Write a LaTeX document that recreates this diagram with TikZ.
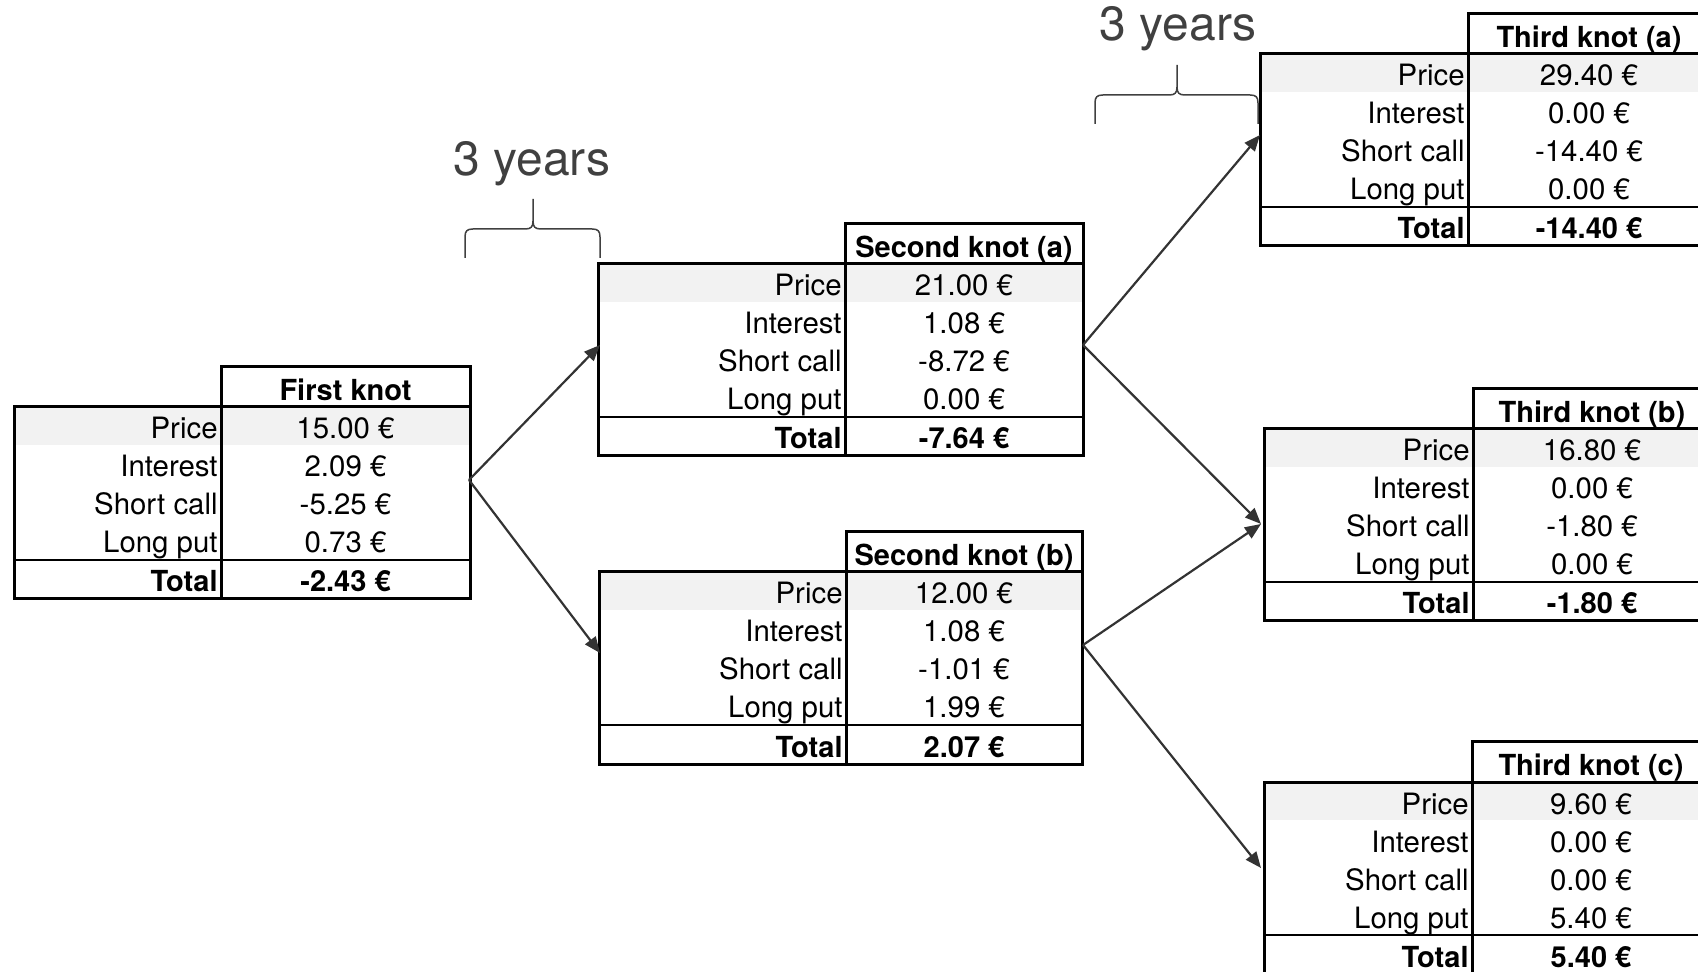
\documentclass[tikz,border=0pt]{standalone}
\usepackage{fontspec}
\setmainfont{TeX Gyre Heros}
\usetikzlibrary{arrows.meta}

\definecolor{pricegray}{HTML}{F2F2F2}
\definecolor{arrowgray}{HTML}{333333}
\definecolor{bracegray}{HTML}{404040}

\tikzset{
  frame/.style={line width=1.5pt, black},
  totalrule/.style={line width=1pt, black},
  lbl/.style={anchor=base east, inner sep=0pt, font=\fontsize{14.7}{17}\selectfont},
  val/.style={anchor=base, inner sep=0pt, font=\fontsize{14.7}{17}\selectfont},
  hdr/.style={anchor=base, inner sep=0pt, font=\fontsize{14.5}{17}\selectfont\bfseries},
  lblb/.style={lbl, font=\fontsize{14.5}{17}\selectfont\bfseries},
  valb/.style={val, font=\fontsize{14.5}{17}\selectfont\bfseries},
  link/.style={arrowgray, line width=1.1pt, -{Triangle[length=8pt,width=6.5pt]}},
  brace/.style={bracegray, line width=0.75pt},
  span/.style={anchor=base, inner sep=0pt, text=bracegray, font=\fontsize{24}{27}\selectfont},
}

% Frame of one knot table: #1 name, #2 left, #3 column rule, #4 right, #5 top of header
\newcommand\knotframe[5]{%
  \def\kL{#2}\def\kS{#3}\def\kR{#4}\def\kT{#5}%
  \fill[pricegray] (#2,#5+40) rectangle (#4,#5+78);
  \draw[totalrule] (#2,#5+193) -- (#4,#5+193);
  \draw[frame] (#2,#5+40) rectangle (#4,#5+232);
  \draw[frame] (#3,#5+232) -- (#3,#5) -- (#4,#5) -- (#4,#5+40);
}

% Texts of one knot table: #1 name, #2 header, #3 price, #4 interest,
% #5 short call, #6 long put, #7 total
\newcommand\knottext[7]{%
  \node[hdr] (#1-h) at ({(\kS+\kR)/2},{\kT+34}) {#2};
  \node[lbl] (#1-p) at ({\kS-3},{\kT+72}) {Price};
  \node[val] (#1-pv) at ({(\kS+\kR)/2},{\kT+72}) {#3};
  \node[lbl] (#1-i) at ({\kS-3},{\kT+110}) {Interest};
  \node[val] (#1-iv) at ({(\kS+\kR)/2},{\kT+110}) {#4};
  \node[lbl] (#1-s) at ({\kS-3},{\kT+148}) {Short call};
  \node[val] (#1-sv) at ({(\kS+\kR)/2},{\kT+148}) {#5};
  \node[lbl] (#1-l) at ({\kS-3},{\kT+186}) {Long put};
  \node[val] (#1-lv) at ({(\kS+\kR)/2},{\kT+186}) {#6};
  \node[lblb] (#1-t) at ({\kS-3},{\kT+225}) {Total};
  \node[valb] (#1-tv) at ({(\kS+\kR)/2},{\kT+225}) {#7};
}

\begin{document}
\begin{tikzpicture}[x=0.5pt, y=-0.5pt]
\useasboundingbox (0,0) rectangle (1698,972);
\clip (0,0) rectangle (1698,972);

% first period
\knotframe{k1}{14}{221}{470}{367}
\knottext{k1}{First knot}{15.00 €}{2.09 €}{-5.25 €}{0.73 €}{-2.43 €}

% second period
\knotframe{k2a}{598}{845}{1083}{224}
\knottext{k2a}{Second knot (a)}{21.00 €}{1.08 €}{-8.72 €}{0.00 €}{-7.64 €}

\knotframe{k2b}{599}{846}{1082}{532}
\knottext{k2b}{Second knot (b)}{12.00 €}{1.08 €}{-1.01 €}{1.99 €}{2.07 €}

% third period
\knotframe{k3a}{1260}{1468}{1710}{14}
\knottext{k3a}{Third knot (a)}{29.40 €}{0.00 €}{-14.40 €}{0.00 €}{-14.40 €}

\knotframe{k3b}{1264}{1473}{1711}{389}
\knottext{k3b}{Third knot (b)}{16.80 €}{0.00 €}{-1.80 €}{0.00 €}{-1.80 €}

\knotframe{k3c}{1264}{1472}{1710}{742}
\knottext{k3c}{Third knot (c)}{9.60 €}{0.00 €}{0.00 €}{5.40 €}{5.40 €}

% connection points
\coordinate (k1-out) at (469,480);
\coordinate (k2a-in) at (600,345);
\coordinate (k2a-out) at (1083,345);
\coordinate (k2b-in) at (600,653);
\coordinate (k2b-out) at (1083,645);
\coordinate (k3a-in) at (1260,135);
\coordinate (k3b-in) at (1261,524);
\coordinate (k3c-in) at (1261,868);

% tree branches
\draw[link] (k1-out) -- (k2a-in);
\draw[link] (k1-out) -- (k2b-in);
\draw[link] (k2a-out) -- (k3a-in);
\draw[link] (k2a-out) -- (k3b-in);
\draw[link] (k2b-out) -- (k3b-in);
\draw[link] (k2b-out) -- (k3c-in);

% period braces
\node[span] (span1) at (532,176) {3 years};
\draw[brace] (465,258) -- (465,237) .. controls (465,231) and (467,229) .. (473,229)
  -- (525,229) .. controls (531,229) and (533,227) .. (533,221) -- (533,199);
\draw[brace] (533,221) .. controls (533,227) and (535,229) .. (541,229)
  -- (592,229) .. controls (598,229) and (600,231) .. (600,237) -- (600,258);

\node[span] (span2) at (1178,41) {3 years};
\draw[brace] (1095,124) -- (1095,103) .. controls (1095,97) and (1097,95) .. (1103,95)
  -- (1169,95) .. controls (1175,95) and (1177,93) .. (1177,87) -- (1177,65);
\draw[brace] (1177,87) .. controls (1177,93) and (1179,95) .. (1185,95)
  -- (1250,95) .. controls (1256,95) and (1258,97) .. (1258,103) -- (1258,124);
\end{tikzpicture}
\end{document}
